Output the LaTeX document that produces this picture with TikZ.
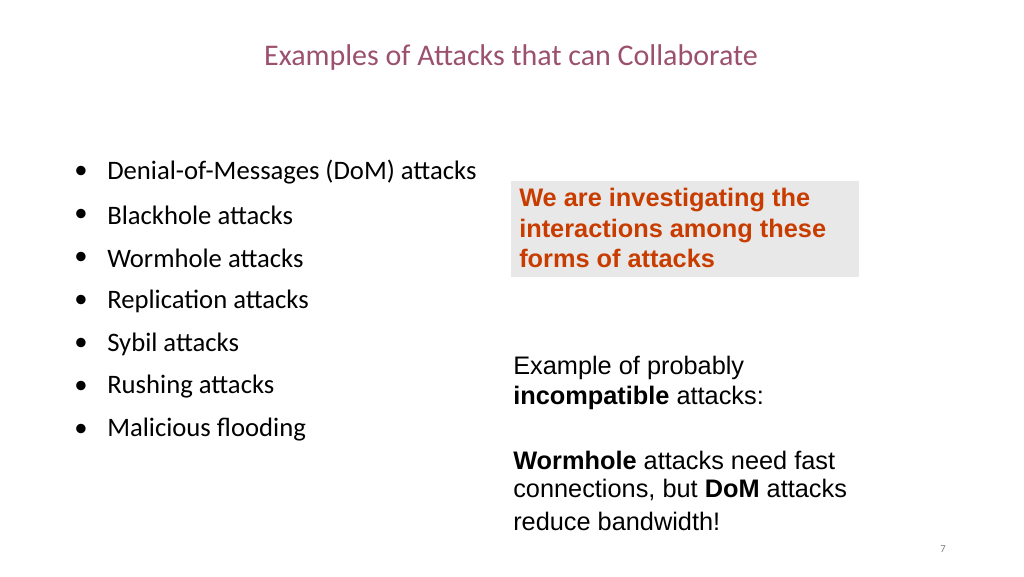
\documentclass[tikz,border=0pt]{standalone}
\usepackage{fontspec}
\setmainfont{Carlito}
\newfontfamily\arialf{Liberation Sans}
\definecolor{titlec}{RGB}{155,80,110}
\definecolor{boxc}{RGB}{232,232,232}
\definecolor{redc}{RGB}{200,60,0}
\begin{document}
\begin{tikzpicture}[x=0.75pt,y=-0.75pt,
  bul/.style={anchor=west,inner sep=0pt,font=\fontsize{20}{24}\selectfont},
  rt/.style={anchor=west,inner sep=0pt,font=\arialf\fontsize{19}{23}\selectfont}]
\useasboundingbox (0,0) rectangle (1024,576);
\node[inner sep=0pt,text=titlec,font=\fontsize{22.5}{27}\selectfont] (title) at (511,57) {Examples of Attacks that can Collaborate};
\foreach \t [count=\i] in {Denial-of-Messages (DoM) attacks,Blackhole attacks,Wormhole attacks,Replication attacks,Sybil attacks,Rushing attacks,Malicious flooding}{
  \node[bul] (b\i) at (107,{172+43*(\i-1)}) {\t};
  \node[inner sep=0pt,font=\fontsize{20}{24}\selectfont] (d\i) at (81,{172+43*(\i-1)}) {•};
}
\fill[boxc] (511,181) rectangle (859,277);
\node[rt,text=redc,font=\arialf\bfseries\fontsize{19}{23}\selectfont,align=left] (box) at (519,228) {We are investigating the\\interactions among these\\forms of attacks};
\node[rt] (r1) at (513,368) {Example of probably};
\node[rt] (r2) at (513,398) {\textbf{incompatible} attacks:};
\node[rt] (r3) at (513,460) {\textbf{Wormhole} attacks need fast};
\node[rt] (r4) at (513,490) {connections, but \textbf{DoM} attacks};
\node[rt] (r5) at (513,521) {reduce bandwidth!};
\node[inner sep=0pt,text=gray,font=\fontsize{8}{10}\selectfont] (pg) at (943,549) {7};
\end{tikzpicture}
\end{document}
